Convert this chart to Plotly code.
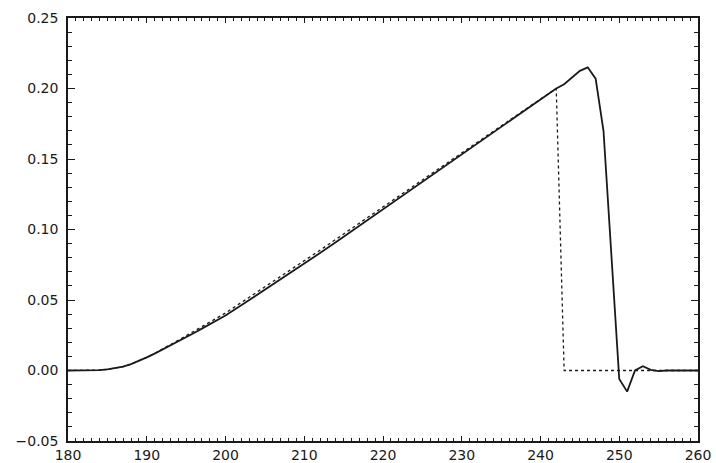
import plotly.graph_objects as go

# Sample positions
x = [180, 182, 184, 185, 186, 187, 188, 189, 190, 191, 192, 193, 194, 195, 196,
     197, 198, 199, 200, 202, 204, 206, 208, 210, 212, 214, 216, 218, 220, 222,
     224, 226, 228, 230, 232, 234, 236, 238, 240, 241, 242, 243, 244, 245, 246,
     247, 248, 249, 250, 251, 252, 253, 254, 255, 256, 258, 260]

# Measured response (solid)
measured = [0.0, 0.0, 0.0003, 0.0008, 0.0015, 0.0027, 0.0045, 0.0068, 0.0093, 0.012,
            0.0148, 0.0177, 0.0206, 0.0236, 0.0266, 0.0297, 0.0328, 0.0359, 0.039,
            0.0462, 0.0535, 0.0608, 0.0682, 0.0757, 0.0833, 0.091, 0.0988, 0.1066,
            0.1144, 0.1222, 0.13, 0.1378, 0.1456, 0.1534, 0.1612, 0.169, 0.1768,
            0.1845, 0.1922, 0.196, 0.200, 0.203, 0.208, 0.2125, 0.215, 0.207, 0.170,
            0.082, -0.006, -0.015, 0.0, 0.003, 0.0005, -0.0005, 0.0, 0.0, 0.0]

# Reference ramp (dotted)
reference = [0.0, 0.0, 0.0003, 0.0008, 0.0015, 0.0027, 0.0045, 0.0068, 0.0093, 0.0121,
             0.0151, 0.0182, 0.0214, 0.0246, 0.0278, 0.0311, 0.0343, 0.0375, 0.0408,
             0.0482, 0.0555, 0.0628, 0.0702, 0.0777, 0.0853, 0.093, 0.1007, 0.1085,
             0.1162, 0.1239, 0.1316, 0.1393, 0.1469, 0.1546, 0.1622, 0.1698, 0.1774,
             0.1849, 0.1925, 0.196, 0.200, 0.0, 0.0, 0.0, 0.0, 0.0, 0.0,
             0.0, 0.0, 0.0, 0.0, 0.0, 0.0, 0.0, 0.0, 0.0, 0.0]

x_ticks = [180, 190, 200, 210, 220, 230, 240, 250, 260]
y_ticks = [-0.05, 0.0, 0.05, 0.10, 0.15, 0.20, 0.25]

fig = go.Figure()
fig.add_trace(go.Scatter(x=x, y=reference, mode="lines",
                         line=dict(color="#1a1a1a", width=1.3, dash="dot"),
                         showlegend=False))
fig.add_trace(go.Scatter(x=x, y=measured, mode="lines",
                         line=dict(color="#1a1a1a", width=1.8),
                         showlegend=False))

axis_common = dict(
    showgrid=False, zeroline=False, showline=True, linecolor="#1a1a1a",
    linewidth=1.5, mirror="allticks", ticks="inside", tickcolor="#1a1a1a",
    tickwidth=1.2, automargin=False,
    tickfont=dict(family="DejaVu Sans", size=14, color="#1a1a1a"),
)

fig.update_xaxes(range=[180, 260], tickvals=x_ticks, ticklen=5,
                 minor=dict(dtick=1, ticks="inside", ticklen=3,
                            tickcolor="#1a1a1a", tickwidth=1),
                 **axis_common)
fig.update_yaxes(range=[-0.05, 0.25], tickvals=y_ticks, tickformat=".2f",
                 ticklen=7, ticklabelstandoff=5,
                 minor=dict(dtick=0.01, ticks="inside", ticklen=4,
                            tickcolor="#1a1a1a", tickwidth=1),
                 **axis_common)

fig.update_layout(
    width=716, height=463,
    margin=dict(l=68, r=18, t=18, b=22),
    paper_bgcolor="white", plot_bgcolor="white",
)

fig.write_html("out.html")
